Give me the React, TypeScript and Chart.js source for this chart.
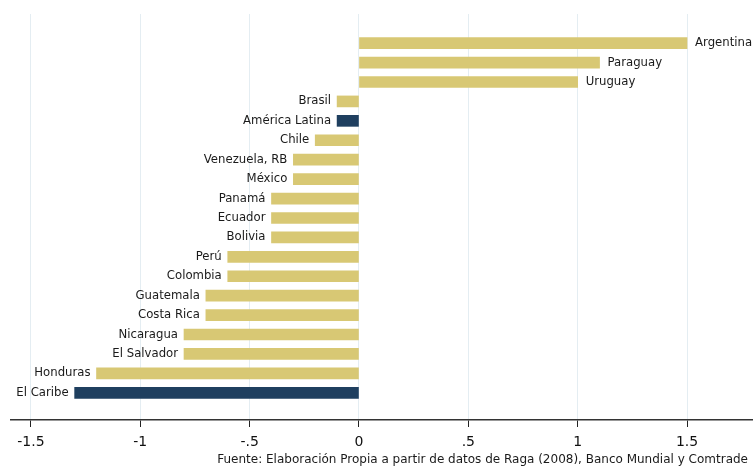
import React, { useEffect, useRef } from "react";
import { Chart, registerables } from "chart.js";

Chart.register(...registerables);

const categories: string[] = [
  "Argentina", "Paraguay", "Uruguay", "Brasil", "América Latina", "Chile",
  "Venezuela, RB", "México", "Panamá", "Ecuador", "Bolivia", "Perú",
  "Colombia", "Guatemala", "Costa Rica", "Nicaragua", "El Salvador",
  "Honduras", "El Caribe",
];
const values: number[] = [
  1.5, 1.1, 1.0, -0.1, -0.1, -0.2, -0.3, -0.3, -0.4, -0.4, -0.4, -0.6, -0.6,
  -0.7, -0.7, -0.8, -0.8, -1.2, -1.3,
];
const aggregates: string[] = ["América Latina", "El Caribe"];
const tickValues: number[] = [-1.5, -1, -0.5, 0, 0.5, 1, 1.5];
const tickLabels: string[] = ["-1.5", "-1", "-.5", "0", ".5", "1", "1.5"];
const sourceText =
  "Fuente: Elaboración Propia a partir de datos de Raga (2008), Banco Mundial y Comtrade";

const GOLD = "#D8C874";
const NAVY = "#1F3F5F";
const FONT = "'DejaVu Sans', Verdana, sans-serif";

export default function App() {
  const ref = useRef<HTMLCanvasElement | null>(null);

  useEffect(() => {
    if (!ref.current) return;
    const labelPlugin = {
      id: "barLabels",
      afterDatasetsDraw(chart: any) {
        const ctx = chart.ctx;
        const meta = chart.getDatasetMeta(0);
        ctx.save();
        ctx.font = `11.7px ${FONT}`;
        ctx.fillStyle = "#1a1a1a";
        ctx.textBaseline = "middle";
        meta.data.forEach((el: any, i: number) => {
          const v = values[i];
          const left = Math.min(el.x, el.base);
          const right = Math.max(el.x, el.base);
          if (v >= 0) {
            ctx.textAlign = "left";
            ctx.fillText(categories[i], right + 8, el.y);
          } else {
            ctx.textAlign = "right";
            ctx.fillText(categories[i], left - 6, el.y);
          }
        });
        ctx.restore();
      },
      afterDraw(chart: any) {
        const ctx = chart.ctx;
        ctx.save();
        ctx.font = `12px ${FONT}`;
        ctx.fillStyle = "#1a1a1a";
        ctx.textAlign = "right";
        ctx.textBaseline = "middle";
        ctx.fillText(sourceText, 748, 460);
        ctx.restore();
      },
    };

    const chart = new Chart(ref.current, {
      type: "bar",
      data: {
        datasets: [
          {
            data: values.map((v, i) => ({ x: v, y: i })) as any,
            backgroundColor: categories.map((c) =>
              aggregates.includes(c) ? NAVY : GOLD
            ),
            barThickness: 11,
            borderWidth: 0,
          },
        ],
      },
      options: {
        indexAxis: "y",
        responsive: false,
        animation: false,
        layout: { padding: { left: 11, top: 14, right: 0, bottom: 0 } },
        plugins: {
          legend: { display: false },
          tooltip: { enabled: false },
        },
        scales: {
          y: {
            type: "linear",
            reverse: true,
            offset: false,
            min: -1.5,
            max: 19.4,
            display: false,
          },
          x: {
            type: "linear",
            min: -1.591,
            max: 1.8016,
            afterBuildTicks: (scale: any) => {
              scale.ticks = tickValues.map((v) => ({ value: v }));
            },
            afterFit: (scale: any) => {
              scale.height = 48;
            },
            grid: {
              color: "#E4EDF2",
              lineWidth: 1,
              tickColor: "#222",
              tickLength: 7,
              drawTicks: true,
            },
            border: { color: "#333", width: 1.5 },
            ticks: {
              padding: 7,
              color: "#111",
              font: { family: FONT, size: 14 },
              maxRotation: 0,
              autoSkip: false,
              callback: (value: any) => {
                const idx = tickValues.indexOf(Number(value));
                return idx >= 0 ? tickLabels[idx] : "";
              },
            },
          },
        },
      },
      plugins: [labelPlugin],
    });
    return () => chart.destroy();
  }, []);

  return (
    <div
      style={{
        position: "fixed",
        left: 0,
        top: 0,
        width: 753,
        height: 468,
        background: "#fff",
      }}
    >
      <canvas ref={ref} width={753} height={468} style={{ width: 753, height: 468 }} />
    </div>
  );
}
